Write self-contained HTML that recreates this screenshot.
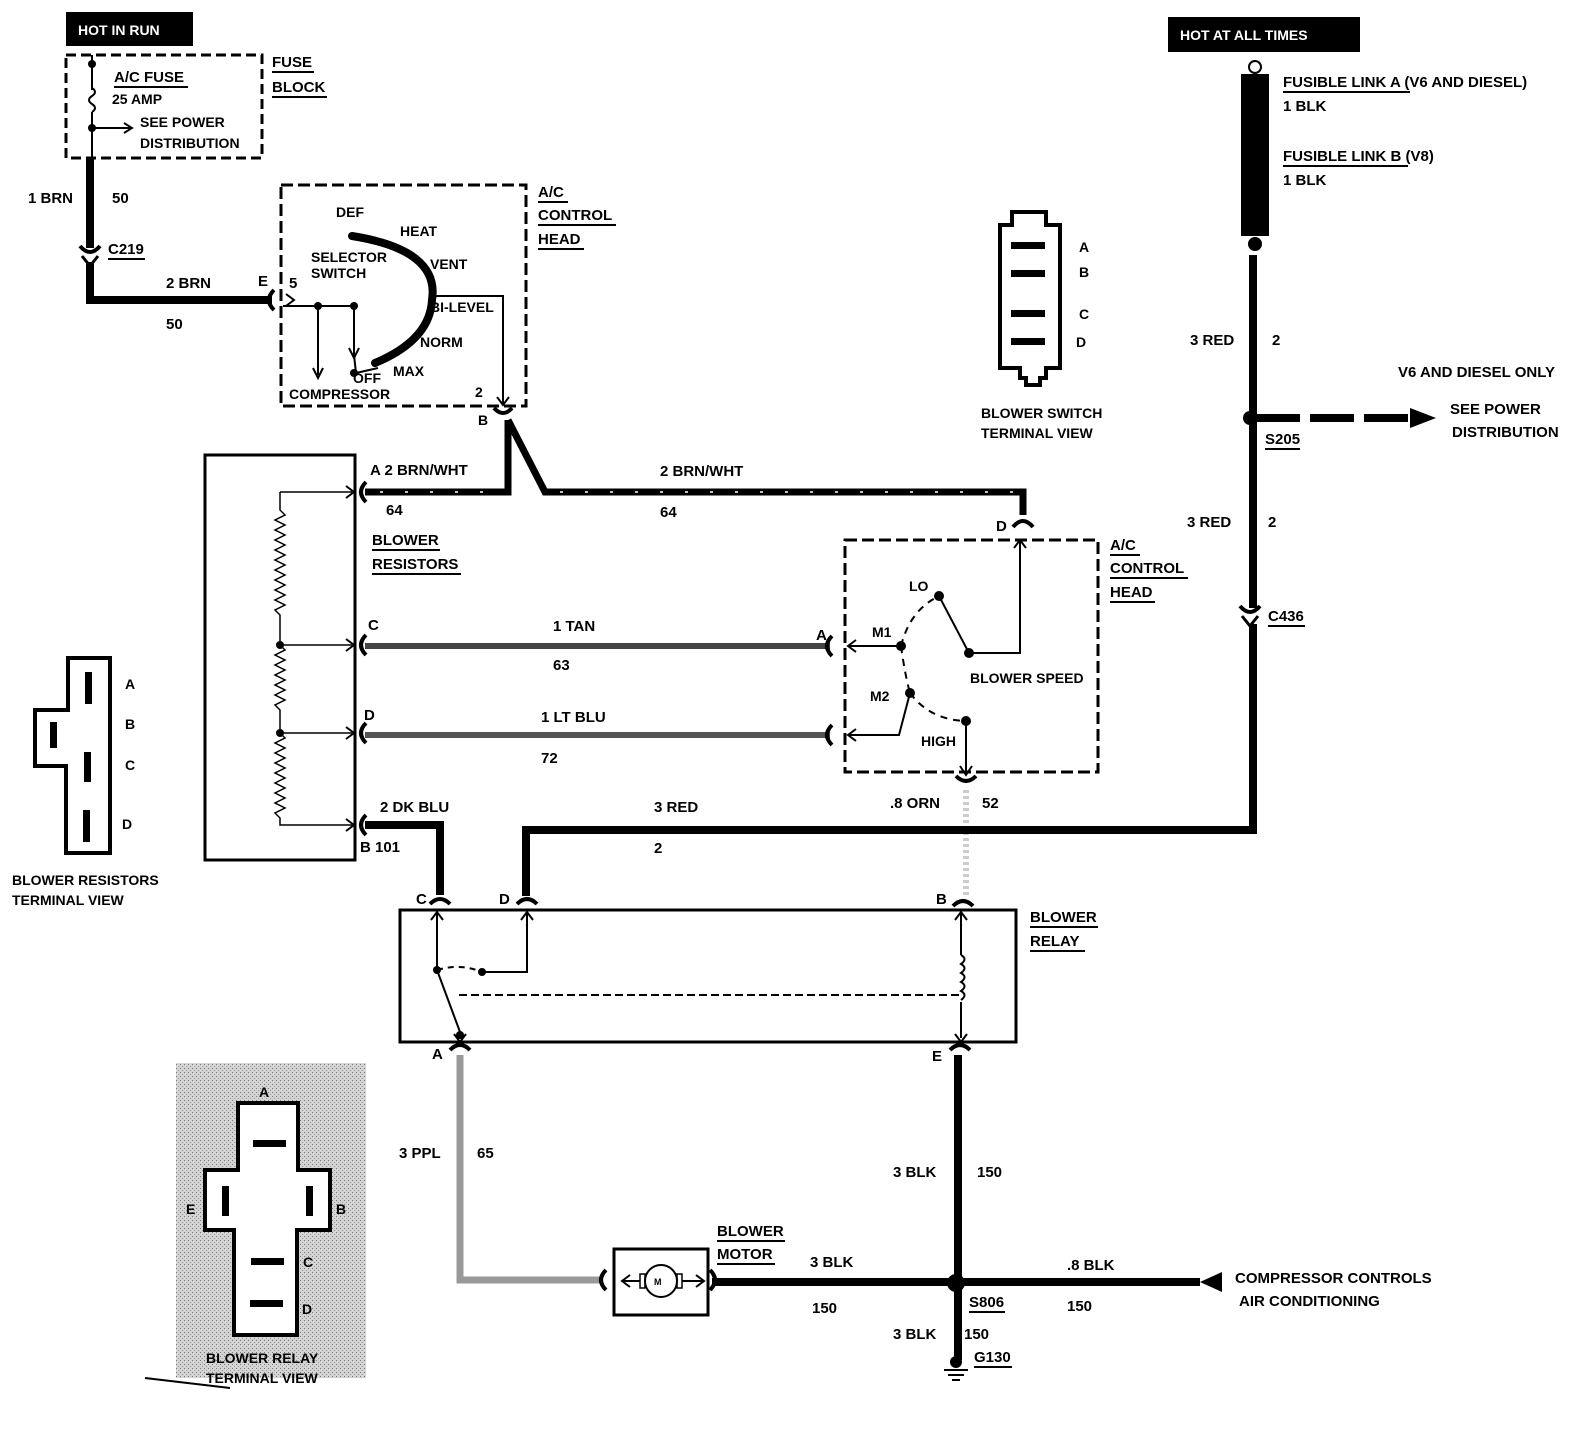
<!DOCTYPE html>
<html><head><meta charset="utf-8"><style>
html,body{margin:0;padding:0;background:#fff;}
svg{display:block}
text{font-family:"Liberation Sans",sans-serif;font-weight:bold;font-size:15px;fill:#000}
.s{font-size:14px}
</style></head><body>
<svg width="1596" height="1440" viewBox="0 0 1596 1440" xmlns="http://www.w3.org/2000/svg">
<defs>
<pattern id="st" width="4" height="4" patternUnits="userSpaceOnUse"><rect width="4" height="4" fill="#d4d4d4"/><rect x="0" y="0" width="1" height="1" fill="#777"/><rect x="2" y="2" width="1" height="1" fill="#999"/></pattern>
</defs>
<!-- HOT IN RUN -->
<rect x="66" y="12" width="127" height="34" fill="#000"/>
<text x="78" y="35" style="fill:#fff" class="s">HOT IN RUN</text>
<rect x="66" y="55" width="196" height="103" fill="none" stroke="#000" stroke-width="3" stroke-dasharray="10,5"/>
<line x1="92" y1="55" x2="92" y2="90" stroke="#000" stroke-width="2"/>
<path d="M92 88 q6 4 0 8 q-6 4 0 8 q6 4 0 8" fill="none" stroke="#000" stroke-width="2"/>
<line x1="92" y1="112" x2="92" y2="158" stroke="#000" stroke-width="2"/>
<circle cx="92" cy="64" r="4"/><circle cx="92" cy="128" r="4"/>
<line x1="92" y1="128" x2="130" y2="128" stroke="#000" stroke-width="2"/>
<path d="M124 123 L132 128 L124 133" fill="none" stroke="#000" stroke-width="2"/>
<text x="114" y="82">A/C FUSE</text><line x1="114" y1="87" x2="188" y2="87" stroke="#000" stroke-width="2"/>
<text x="112" y="104" class="s">25 AMP</text>
<text x="140" y="127" class="s">SEE POWER</text>
<text x="140" y="148" class="s">DISTRIBUTION</text>
<text x="272" y="67">FUSE</text><line x1="272" y1="72" x2="314" y2="72" stroke="#000" stroke-width="2"/>
<text x="272" y="92">BLOCK</text><line x1="272" y1="97" x2="327" y2="97" stroke="#000" stroke-width="2"/>
<path d="M90 158 V248 M90 262 V300 H272" fill="none" stroke="#000" stroke-width="8"/>
<path d="M80 246 Q90 258 100 246" fill="none" stroke="#000" stroke-width="4"/>
<path d="M82 256 L90 266 L98 256" fill="none" stroke="#000" stroke-width="3"/>
<path d="M274 290 Q264 300 274 310" fill="none" stroke="#000" stroke-width="4"/>
<text x="28" y="203">1 BRN</text><text x="112" y="203">50</text>
<text x="108" y="254">C219</text><line x1="108" y1="259" x2="145" y2="259" stroke="#000" stroke-width="2"/>
<text x="166" y="288">2 BRN</text><text x="166" y="329">50</text>
<text x="258" y="286">E</text><text x="289" y="288">5</text>
<!-- control head 1 -->
<rect x="281" y="185" width="245" height="221" fill="none" stroke="#000" stroke-width="3" stroke-dasharray="12,5"/>
<path d="M352 236 Q440 250 432 300 Q430 340 375 363" fill="none" stroke="#000" stroke-width="8" stroke-linecap="round"/>
<path d="M286 306 L294 300 L286 294" fill="none" stroke="#000" stroke-width="2"/>
<path d="M283 306 H354 M318 306 V375 M354 306 V355 L356 373 L378 368 M430 296 H503 V405" fill="none" stroke="#000" stroke-width="2"/>
<circle cx="318" cy="306" r="4"/><circle cx="354" cy="306" r="4"/><circle cx="354" cy="373" r="4"/>
<path d="M313 368 L318 378 L323 368 M349 348 L354 358 L359 348 M497 397 L503 405 L509 397" fill="none" stroke="#000" stroke-width="2"/>
<text x="336" y="217" class="s">DEF</text><text x="400" y="236" class="s">HEAT</text>
<text x="311" y="262" class="s">SELECTOR</text><text x="311" y="278" class="s">SWITCH</text>
<text x="430" y="269" class="s">VENT</text><text x="430" y="312" class="s">BI-LEVEL</text>
<text x="420" y="347" class="s">NORM</text><text x="393" y="376" class="s">MAX</text>
<text x="353" y="383" class="s">OFF</text><text x="289" y="399" class="s">COMPRESSOR</text>
<text x="475" y="397" class="s">2</text><text x="478" y="425" class="s">B</text>
<text x="538" y="197">A/C</text><line x1="538" y1="202" x2="568" y2="202" stroke="#000" stroke-width="2"/>
<text x="538" y="220">CONTROL</text><line x1="538" y1="225" x2="616" y2="225" stroke="#000" stroke-width="2"/>
<text x="538" y="244">HEAD</text><line x1="538" y1="249" x2="584" y2="249" stroke="#000" stroke-width="2"/>
<path d="M494 408 Q503 418 512 408" fill="none" stroke="#000" stroke-width="4"/>
<!-- BRN/WHT -->
<path d="M365 492 H508 V420 M508 420 L545 492 H1023 V515" fill="none" stroke="#000" stroke-width="7"/>
<path d="M380 492 H500 M560 492 H1015" stroke="#fff" stroke-width="1.5" stroke-dasharray="3,22"/>
<path d="M1013 527 Q1023 515 1033 527" fill="none" stroke="#000" stroke-width="4"/>
<text x="370" y="475">A 2 BRN/WHT</text><text x="386" y="515">64</text>
<text x="660" y="476">2 BRN/WHT</text><text x="660" y="517">64</text>
<text x="996" y="531">D</text>
<!-- resistors box -->
<rect x="205" y="455" width="150" height="405" fill="none" stroke="#000" stroke-width="3"/>
<path d="M280 492 H352 M280 492 V510 l5 5 l-10 5 l10 5 l-10 5 l10 5 l-10 5 l10 5 l-10 5 l10 5 l-10 5 l10 5 l-10 5 l10 5 l-10 5 l10 5 l-10 5 l10 5 l-10 5 l10 5 l-10 5 l5 5 V645 l5 5 l-10 5 l10 5 l-10 5 l10 5 l-10 5 l10 5 l-10 5 l10 5 l-10 5 l10 5 l-10 5 l5 5 V733 l5 5 l-10 5 l10 5 l-10 5 l10 5 l-10 5 l10 5 l-10 5 l10 5 l-10 5 l10 5 l-10 5 l10 5 l-10 5 l10 5 l-10 5 l5 5 V825 H352 M280 645 H352 M280 733 H352" fill="none" stroke="#000" stroke-width="1.5"/>
<circle cx="280" cy="645" r="4"/><circle cx="280" cy="733" r="4"/>
<path d="M346 486 L354 492 L346 498 M346 639 L354 645 L346 651 M346 727 L354 733 L346 739 M346 819 L354 825 L346 831" fill="none" stroke="#000" stroke-width="2"/>
<path d="M366 482 Q356 492 366 502 M366 635 Q356 645 366 655 M366 723 Q356 733 366 743 M366 815 Q356 825 366 835" fill="none" stroke="#000" stroke-width="4"/>
<text x="372" y="545">BLOWER</text><line x1="372" y1="550" x2="440" y2="550" stroke="#000" stroke-width="2"/>
<text x="372" y="569">RESISTORS</text><line x1="372" y1="574" x2="461" y2="574" stroke="#000" stroke-width="2"/>
<!-- tan / ltblu -->
<line x1="365" y1="646" x2="830" y2="646" stroke="#444" stroke-width="6"/>
<line x1="365" y1="735" x2="830" y2="735" stroke="#555" stroke-width="6"/>
<path d="M832 636 Q822 646 832 656 M832 725 Q822 735 832 745" fill="none" stroke="#000" stroke-width="4"/>
<text x="368" y="630">C</text><text x="553" y="631">1 TAN</text><text x="553" y="670">63</text><text x="816" y="640">A</text>
<text x="364" y="720">D</text><text x="541" y="722">1 LT BLU</text><text x="541" y="763">72</text>
<!-- control head 2 -->
<rect x="845" y="540" width="253" height="232" fill="none" stroke="#000" stroke-width="3" stroke-dasharray="12,5"/>
<path d="M848 646 H901 M848 735 H899 L910 693 M910 693 M969 653 L939 596 M969 653 H1020 V540 M966 721 V775" fill="none" stroke="#000" stroke-width="2"/>
<path d="M856 640 L848 646 L856 652 M856 729 L848 735 L856 741 M1014 548 L1020 540 L1026 548 M960 766 L966 775 L972 766" fill="none" stroke="#000" stroke-width="2"/>
<path d="M901 646 Q910 610 939 596 M901 646 Q905 675 910 693 M910 693 Q930 720 966 721" fill="none" stroke="#000" stroke-width="2" stroke-dasharray="7,6"/>
<circle cx="901" cy="646" r="5"/><circle cx="939" cy="596" r="5"/><circle cx="969" cy="653" r="5"/><circle cx="910" cy="693" r="5"/><circle cx="966" cy="721" r="5"/>
<text x="909" y="591" class="s">LO</text><text x="872" y="637" class="s">M1</text><text x="870" y="701" class="s">M2</text>
<text x="970" y="683" class="s">BLOWER SPEED</text><text x="921" y="746" class="s">HIGH</text>
<text x="1110" y="550">A/C</text><line x1="1110" y1="555" x2="1140" y2="555" stroke="#000" stroke-width="2"/>
<text x="1110" y="573">CONTROL</text><line x1="1110" y1="578" x2="1188" y2="578" stroke="#000" stroke-width="2"/>
<text x="1110" y="597">HEAD</text><line x1="1110" y1="602" x2="1155" y2="602" stroke="#000" stroke-width="2"/>
<path d="M956 776 Q966 786 976 776" fill="none" stroke="#000" stroke-width="4"/>
<line x1="966" y1="790" x2="966" y2="895" stroke="#ccc" stroke-width="6" stroke-dasharray="3,3"/>
<text x="890" y="808">.8 ORN</text><text x="982" y="808">52</text>
<!-- right power -->
<rect x="1168" y="17" width="192" height="35" fill="#000"/>
<text x="1180" y="40" style="fill:#fff" class="s">HOT AT ALL TIMES</text>
<circle cx="1255" cy="67" r="6" fill="none" stroke="#000" stroke-width="2"/>
<rect x="1241" y="74" width="28" height="162" fill="#000"/>
<circle cx="1255" cy="244" r="7"/>
<path d="M1253 255 V608 M1253 624 V830 H526 V896" fill="none" stroke="#000" stroke-width="8"/>
<circle cx="1250" cy="418" r="7"/>
<path d="M1256 418 H1410" stroke="#000" stroke-width="8" stroke-dasharray="44,10"/>
<polygon points="1410,408 1436,418 1410,428"/>
<path d="M1240 606 Q1250 618 1260 606" fill="none" stroke="#000" stroke-width="4"/>
<path d="M1242 616 L1250 626 L1258 616" fill="none" stroke="#000" stroke-width="3"/>
<text x="1283" y="87">FUSIBLE LINK A (V6 AND DIESEL)</text><line x1="1283" y1="92" x2="1410" y2="92" stroke="#000" stroke-width="2"/>
<text x="1283" y="111">1 BLK</text>
<text x="1283" y="161">FUSIBLE LINK B (V8)</text><line x1="1283" y1="166" x2="1408" y2="166" stroke="#000" stroke-width="2"/>
<text x="1283" y="185">1 BLK</text>
<text x="1190" y="345">3 RED</text><text x="1272" y="345">2</text>
<text x="1398" y="377">V6 AND DIESEL ONLY</text>
<text x="1450" y="414">SEE POWER</text><text x="1452" y="437">DISTRIBUTION</text>
<text x="1265" y="444">S205</text><line x1="1265" y1="449" x2="1300" y2="449" stroke="#000" stroke-width="2"/>
<text x="1187" y="527">3 RED</text><text x="1268" y="527">2</text>
<text x="1268" y="621">C436</text><line x1="1268" y1="626" x2="1305" y2="626" stroke="#000" stroke-width="2"/>
<text x="654" y="812">3 RED</text><text x="654" y="853">2</text>
<!-- blower switch view -->
<path d="M1012 212 H1046 V225 H1060 V368 H1046 V378 H1040 V385 H1026 V378 H1020 V368 H1000 V225 H1012 Z" fill="none" stroke="#000" stroke-width="4"/>
<rect x="1011" y="242" width="34" height="7"/><rect x="1011" y="270" width="34" height="7"/><rect x="1011" y="310" width="34" height="7"/><rect x="1011" y="338" width="34" height="7"/>
<text x="1079" y="252" class="s">A</text><text x="1079" y="277" class="s">B</text><text x="1079" y="319" class="s">C</text><text x="1076" y="347" class="s">D</text>
<text x="981" y="418" class="s">BLOWER SWITCH</text><text x="981" y="438" class="s">TERMINAL VIEW</text>
<!-- resistor terminal view -->
<path d="M68 658 H110 V853 H66 V766 H35 V710 H68 Z" fill="none" stroke="#000" stroke-width="4"/>
<rect x="85" y="672" width="7" height="32"/><rect x="50" y="722" width="7" height="26"/><rect x="84" y="752" width="7" height="30"/><rect x="83" y="810" width="7" height="32"/>
<text x="125" y="689" class="s">A</text><text x="125" y="729" class="s">B</text><text x="125" y="770" class="s">C</text><text x="122" y="829" class="s">D</text>
<text x="12" y="885" class="s">BLOWER RESISTORS</text><text x="12" y="905" class="s">TERMINAL VIEW</text>
<!-- DK BLU -->
<path d="M365 825 H440 V895" fill="none" stroke="#000" stroke-width="8"/>
<text x="380" y="812">2 DK BLU</text><text x="360" y="852">B 101</text>
<!-- blower relay -->
<rect x="400" y="910" width="616" height="132" fill="none" stroke="#000" stroke-width="3"/>
<path d="M430 904 Q440 894 450 904 M517 904 Q527 894 537 904 M953 906 Q963 896 973 906" fill="none" stroke="#000" stroke-width="4"/>
<path d="M437 912 V970 M437 970 L460 1032 M527 912 V972 H482 M961 912 V955 M961 1002 V1038 M455 995 H961" fill="none" stroke="#000" stroke-width="2"/>
<path d="M437 970 Q460 963 482 972" fill="none" stroke="#000" stroke-width="2" stroke-dasharray="6,5"/>
<path d="M455 995 H961" stroke="#fff" stroke-width="3" stroke-dasharray="4,8"/>
<path d="M961 955 q7 4 0 9 q7 4 0 9 q7 4 0 9 q7 4 0 9 q7 4 0 9" fill="none" stroke="#000" stroke-width="2"/>
<circle cx="437" cy="970" r="4"/><circle cx="482" cy="972" r="4"/><circle cx="460" cy="1035" r="4"/>
<path d="M431 920 L437 912 L443 920 M521 920 L527 912 L533 920 M955 920 L961 912 L967 920 M454 1034 L460 1042 L466 1034 M955 1034 L961 1042 L967 1034" fill="none" stroke="#000" stroke-width="2"/>
<text x="416" y="904">C</text><text x="499" y="904">D</text><text x="936" y="904">B</text>
<text x="432" y="1059">A</text><text x="932" y="1061">E</text>
<text x="1030" y="922">BLOWER</text><line x1="1030" y1="927" x2="1098" y2="927" stroke="#000" stroke-width="2"/>
<text x="1030" y="946">RELAY</text><line x1="1030" y1="951" x2="1085" y2="951" stroke="#000" stroke-width="2"/>
<path d="M450 1050 Q460 1040 470 1050 M950 1050 Q960 1040 970 1050" fill="none" stroke="#000" stroke-width="4"/>
<!-- PPL -->
<path d="M460 1055 V1280 H600" fill="none" stroke="#999" stroke-width="7"/>
<path d="M606 1270 Q596 1280 606 1290" fill="none" stroke="#000" stroke-width="4"/>
<text x="399" y="1158">3 PPL</text><text x="477" y="1158">65</text>
<!-- motor -->
<rect x="614" y="1249" width="94" height="66" fill="none" stroke="#000" stroke-width="3"/>
<circle cx="661" cy="1281" r="16" fill="none" stroke="#000" stroke-width="2"/>
<rect x="640" y="1274" width="5" height="14" fill="none" stroke="#000" stroke-width="1.5"/><rect x="677" y="1274" width="5" height="14" fill="none" stroke="#000" stroke-width="1.5"/>
<path d="M622 1281 H640 M682 1281 H704 M630 1275 L622 1281 L630 1287 M696 1275 L704 1281 L696 1287" fill="none" stroke="#000" stroke-width="2"/>
<text x="654" y="1285" style="font-size:9px">M</text>
<path d="M710 1270 Q720 1280 710 1290" fill="none" stroke="#000" stroke-width="4"/>
<text x="717" y="1236">BLOWER</text><line x1="717" y1="1241" x2="785" y2="1241" stroke="#000" stroke-width="2"/>
<text x="717" y="1259">MOTOR</text><line x1="717" y1="1264" x2="775" y2="1264" stroke="#000" stroke-width="2"/>
<!-- BLK -->
<path d="M958 1055 V1360 M712 1282 H1200" fill="none" stroke="#000" stroke-width="8"/>
<circle cx="956" cy="1283" r="9"/>
<polygon points="1222,1272 1200,1282 1222,1292"/>
<circle cx="956" cy="1362" r="6"/>
<path d="M944 1370 H968 M948 1375 H964 M952 1380 H960" stroke="#000" stroke-width="2"/>
<text x="893" y="1177">3 BLK</text><text x="977" y="1177">150</text>
<text x="810" y="1267">3 BLK</text><text x="812" y="1313">150</text>
<text x="1067" y="1270">.8 BLK</text><text x="1067" y="1311">150</text>
<text x="969" y="1307">S806</text><line x1="969" y1="1312" x2="1005" y2="1312" stroke="#000" stroke-width="2"/>
<text x="893" y="1339">3 BLK</text><text x="964" y="1339">150</text>
<text x="974" y="1362">G130</text><line x1="974" y1="1367" x2="1012" y2="1367" stroke="#000" stroke-width="2"/>
<text x="1235" y="1283">COMPRESSOR CONTROLS</text><text x="1239" y="1306">AIR CONDITIONING</text>
<!-- relay terminal view -->
<rect x="176" y="1063" width="190" height="315" fill="url(#st)"/>
<path d="M238 1103 H298 V1170 H330 V1230 H297 V1335 H234 V1230 H205 V1170 H238 Z" fill="#fff" stroke="#000" stroke-width="4"/>
<rect x="253" y="1140" width="33" height="7"/><rect x="222" y="1186" width="7" height="30"/><rect x="306" y="1186" width="7" height="30"/><rect x="251" y="1258" width="33" height="7"/><rect x="250" y="1300" width="33" height="7"/>
<text x="259" y="1097" class="s">A</text><text x="186" y="1214" class="s">E</text><text x="336" y="1214" class="s">B</text><text x="303" y="1267" class="s">C</text><text x="302" y="1314" class="s">D</text>
<text x="206" y="1363" class="s">BLOWER RELAY</text><text x="206" y="1383" class="s">TERMINAL VIEW</text>
<line x1="145" y1="1378" x2="230" y2="1388" stroke="#000" stroke-width="2"/>
</svg>
</body></html>
